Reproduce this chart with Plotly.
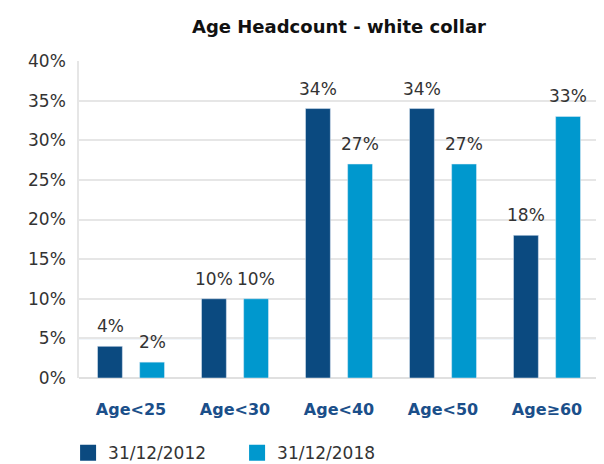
import plotly.graph_objects as go

categories = ["Age<25", "Age<30", "Age<40", "Age<50", "Age≥60"]
series_names = ["31/12/2012", "31/12/2018"]
values_2012 = [4, 10, 34, 34, 18]
values_2018 = [2, 10, 27, 27, 33]
y_ticks = [0, 5, 10, 15, 20, 25, 30, 35, 40]
blue_grid = [5, 15, 25]

dark = "#0B4A80"
light = "#0098CE"
font_family = "'DejaVu Sans', sans-serif"

fig = go.Figure()
series = [(series_names[0], values_2012, dark, -21), (series_names[1], values_2018, light, 21)]
for name, vals, col, shift in series:
    fig.add_trace(go.Bar(
        x=categories, y=vals, name=name, marker_color=col, showlegend=False,
    ))
    for cat, v in zip(categories, vals):
        fig.add_annotation(x=cat, y=v, text=f"{v}%", showarrow=False,
                           xshift=shift, yshift=8, yanchor="bottom",
                           font=dict(size=17, color="#333333", family=font_family))
# legend entries with larger square symbols
for name, col in [(series_names[0], dark), (series_names[1], light)]:
    fig.add_trace(go.Scatter(
        x=[None], y=[None], mode="markers", name=name,
        marker=dict(symbol="square", size=18, color=col), showlegend=True,
    ))

for yv in blue_grid:
    fig.add_shape(type="line", xref="paper", yref="y", x0=0, x1=1, y0=yv, y1=yv,
                  line=dict(color="#C5DCEF", width=1.5), layer="below")

fig.update_layout(
    width=604, height=464,
    margin=dict(l=71, r=13, t=53, b=94, autoexpand=False),
    paper_bgcolor="white", plot_bgcolor="white",
    title=dict(text="<b>Age Headcount - white collar</b>", x=0.5, xref="paper",
               xanchor="center", y=0.959, yanchor="middle",
               font=dict(size=18, color="#111111", family=font_family)),
    barmode="group", bargap=0.19, bargroupgap=0.41,
    font=dict(family=font_family),
    showlegend=True,
    legend=dict(orientation="h", x=-0.021, xanchor="left", y=-0.237, yanchor="middle",
                font=dict(size=17, color="#333333"), itemwidth=30,
                entrywidth=124, traceorder="normal"),
    yaxis=dict(range=[0, 40], tickvals=y_ticks, ticktext=[f"{t}%" for t in y_ticks],
               tickfont=dict(size=17, color="#333333"), gridcolor="#E6E6E6", gridwidth=1.5,
               showline=True, linecolor="#E6E6E6", linewidth=1.5, zeroline=True,
               zerolinecolor="#E0E0E0", zerolinewidth=1.5, ticks="", ticklabelstandoff=8,
               automargin=False),
    xaxis=dict(tickfont=dict(size=16, color="#1B4F8A", family=font_family),
               ticklabelstandoff=20, showline=False, automargin=False),
)
fig.update_xaxes(tickvals=categories, ticktext=[f"<b>{c}</b>" for c in categories])

fig.write_html("out.html")
